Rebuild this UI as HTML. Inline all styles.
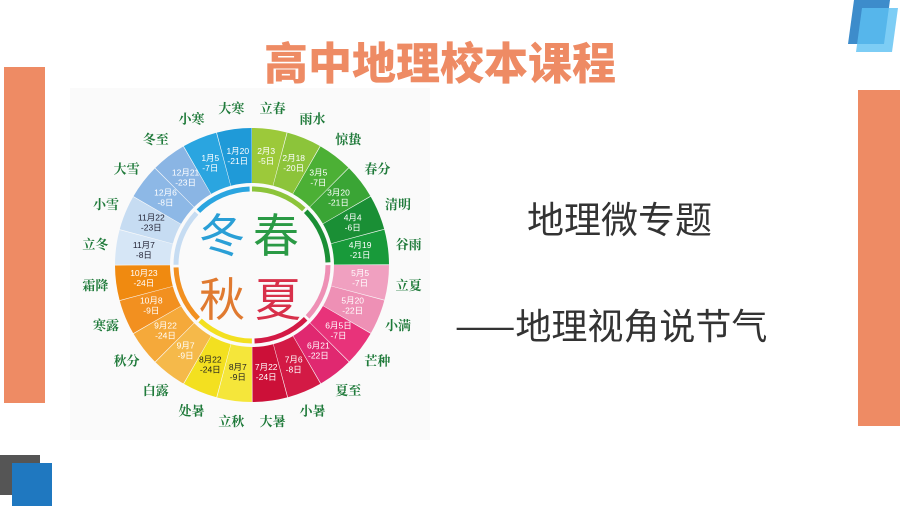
<!DOCTYPE html>
<html><head><meta charset="utf-8"><style>
body{margin:0;width:900px;height:506px;background:#fff;position:relative;overflow:hidden;font-family:"Liberation Sans","Noto Sans CJK SC",sans-serif}
.a{position:absolute}
</style></head><body>
<div class="a" style="left:4px;top:67px;width:41px;height:336px;background:#ee8b64"></div>
<div class="a" style="left:858px;top:90px;width:42px;height:336px;background:#ee8b64"></div>
<div class="a" style="left:0;top:455px;width:40px;height:40px;background:#555"></div>
<div class="a" style="left:12px;top:463px;width:40px;height:43px;background:#1f78c0"></div>
<svg class="a" style="left:840px;top:0" width="60" height="60"><polygon points="14,0 50,0 44,44 8,44" fill="#3d8ccb"/><polygon points="22,8 58,8 52,52 16,52" fill="#5cc0f2" opacity=".8"/></svg>
<div class="a" style="left:0;width:880px;top:36px;line-height:48px;text-align:center;font-size:44px;font-weight:900;color:#ee8b64;font-family:'Noto Sans CJK SC',sans-serif">高中地理校本课程</div>
<div class="a" style="left:70px;top:88px;width:360px;height:352px;background:#fafafa"></div>
<svg class="a" style="left:0;top:0" width="900" height="506">
<g transform="rotate(-90 252 265)" fill="none" stroke-width="55">
<circle cx="252" cy="265" r="109.5" stroke="#9cc93a" stroke-dasharray="28.1 659.9" stroke-dashoffset="0"/>
<circle cx="252" cy="265" r="109.5" stroke="#8cc43a" stroke-dasharray="28.1 659.9" stroke-dashoffset="-28.67"/>
<circle cx="252" cy="265" r="109.5" stroke="#4cb035" stroke-dasharray="28.1 659.9" stroke-dashoffset="-57.33"/>
<circle cx="252" cy="265" r="109.5" stroke="#3aa535" stroke-dasharray="28.1 659.9" stroke-dashoffset="-86"/>
<circle cx="252" cy="265" r="109.5" stroke="#1a8f35" stroke-dasharray="28.1 659.9" stroke-dashoffset="-114.67"/>
<circle cx="252" cy="265" r="109.5" stroke="#189a3a" stroke-dasharray="28.1 659.9" stroke-dashoffset="-143.33"/>
<circle cx="252" cy="265" r="109.5" stroke="#f0a0c0" stroke-dasharray="28.1 659.9" stroke-dashoffset="-172"/>
<circle cx="252" cy="265" r="109.5" stroke="#ee90b5" stroke-dasharray="28.1 659.9" stroke-dashoffset="-200.67"/>
<circle cx="252" cy="265" r="109.5" stroke="#e8337a" stroke-dasharray="28.1 659.9" stroke-dashoffset="-229.33"/>
<circle cx="252" cy="265" r="109.5" stroke="#e02870" stroke-dasharray="28.1 659.9" stroke-dashoffset="-258"/>
<circle cx="252" cy="265" r="109.5" stroke="#d31a45" stroke-dasharray="28.1 659.9" stroke-dashoffset="-286.67"/>
<circle cx="252" cy="265" r="109.5" stroke="#cc1038" stroke-dasharray="28.1 659.9" stroke-dashoffset="-315.33"/>
<circle cx="252" cy="265" r="109.5" stroke="#f5e63a" stroke-dasharray="28.1 659.9" stroke-dashoffset="-344"/>
<circle cx="252" cy="265" r="109.5" stroke="#f3e020" stroke-dasharray="28.1 659.9" stroke-dashoffset="-372.67"/>
<circle cx="252" cy="265" r="109.5" stroke="#f5b94a" stroke-dasharray="28.1 659.9" stroke-dashoffset="-401.33"/>
<circle cx="252" cy="265" r="109.5" stroke="#f5a93a" stroke-dasharray="28.1 659.9" stroke-dashoffset="-430"/>
<circle cx="252" cy="265" r="109.5" stroke="#f29020" stroke-dasharray="28.1 659.9" stroke-dashoffset="-458.67"/>
<circle cx="252" cy="265" r="109.5" stroke="#f08a10" stroke-dasharray="28.1 659.9" stroke-dashoffset="-487.33"/>
<circle cx="252" cy="265" r="109.5" stroke="#d6e6f6" stroke-dasharray="28.1 659.9" stroke-dashoffset="-516"/>
<circle cx="252" cy="265" r="109.5" stroke="#c6dcf2" stroke-dasharray="28.1 659.9" stroke-dashoffset="-544.67"/>
<circle cx="252" cy="265" r="109.5" stroke="#8db8e6" stroke-dasharray="28.1 659.9" stroke-dashoffset="-573.33"/>
<circle cx="252" cy="265" r="109.5" stroke="#8ab5e4" stroke-dasharray="28.1 659.9" stroke-dashoffset="-602"/>
<circle cx="252" cy="265" r="109.5" stroke="#2aa5e0" stroke-dasharray="28.1 659.9" stroke-dashoffset="-630.67"/>
<circle cx="252" cy="265" r="109.5" stroke="#1f9ad8" stroke-dasharray="28.1 659.9" stroke-dashoffset="-659.33"/>
<g stroke-width="5">
<circle cx="252" cy="265" r="76" stroke="#8cc43a" stroke-dasharray="57 420.5" stroke-dashoffset="0"/>
<circle cx="252" cy="265" r="76" stroke="#1a8f35" stroke-dasharray="57 420.5" stroke-dashoffset="-59.7"/>
<circle cx="252" cy="265" r="76" stroke="#ee90b5" stroke-dasharray="57 420.5" stroke-dashoffset="-119.4"/>
<circle cx="252" cy="265" r="76" stroke="#d31a45" stroke-dasharray="57 420.5" stroke-dashoffset="-179.1"/>
<circle cx="252" cy="265" r="76" stroke="#f3e020" stroke-dasharray="57 420.5" stroke-dashoffset="-238.8"/>
<circle cx="252" cy="265" r="76" stroke="#f29020" stroke-dasharray="57 420.5" stroke-dashoffset="-298.5"/>
<circle cx="252" cy="265" r="76" stroke="#c6dcf2" stroke-dasharray="57 420.5" stroke-dashoffset="-358.2"/>
<circle cx="252" cy="265" r="76" stroke="#2aa5e0" stroke-dasharray="57 420.5" stroke-dashoffset="-417.9"/>
</g></g>
<g font-family="Liberation Serif,Noto Serif CJK SC,serif" font-size="13" font-weight="bold" fill="#1f7a3a" text-anchor="middle" dominant-baseline="central">
<text x="272.6" y="108.4">立春</text><text x="312.5" y="119">雨水</text><text x="348.2" y="139.6">惊蛰</text><text x="377.4" y="168.8">春分</text><text x="398" y="204.5">清明</text><text x="408.6" y="244.4">谷雨</text><text x="408.6" y="285.6">立夏</text><text x="398" y="325.5">小满</text><text x="377.4" y="361.2">芒种</text><text x="348.2" y="390.4">夏至</text><text x="312.5" y="411">小暑</text><text x="272.6" y="421.6">大暑</text><text x="231.4" y="421.6">立秋</text><text x="191.5" y="411">处暑</text><text x="155.8" y="390.4">白露</text><text x="126.6" y="361.2">秋分</text><text x="106" y="325.5">寒露</text><text x="95.4" y="285.6">霜降</text><text x="95.4" y="244.4">立冬</text><text x="106" y="204.5">小雪</text><text x="126.6" y="168.8">大雪</text><text x="155.8" y="139.6">冬至</text><text x="191.5" y="119">小寒</text><text x="231.4" y="108.4">大寒</text>
</g>
<g font-size="8.5" fill="#fff" text-anchor="middle">
<text x="266.2" y="154">2月3<tspan x="266.2" dy="10">-5日</tspan></text>
<text x="293.7" y="161">2月18<tspan x="293.7" dy="10">-20日</tspan></text>
<text x="318.4" y="175.5">3月5<tspan x="318.4" dy="10">-7日</tspan></text>
<text x="338.5" y="195.6">3月20<tspan x="338.5" dy="10">-21日</tspan></text>
<text x="352.7" y="220.3">4月4<tspan x="352.7" dy="10">-6日</tspan></text>
<text x="360.1" y="247.8">4月19<tspan x="360.1" dy="10">-21日</tspan></text>
<text x="360.1" y="276.2">5月5<tspan x="360.1" dy="10">-7日</tspan></text>
<text x="352.7" y="303.7">5月20<tspan x="352.7" dy="10">-22日</tspan></text>
<text x="338.5" y="328.4">6月5日<tspan x="338.5" dy="10">-7日</tspan></text>
<text x="318.4" y="348.5">6月21<tspan x="318.4" dy="10">-22日</tspan></text>
<text x="293.7" y="362.7">7月6<tspan x="293.7" dy="10">-8日</tspan></text>
<text x="266.2" y="370.1">7月22<tspan x="266.2" dy="10">-24日</tspan></text>
<text x="237.8" y="370.1" fill="#222">8月7<tspan x="237.8" dy="10">-9日</tspan></text>
<text x="210.3" y="362.7" fill="#222">8月22<tspan x="210.3" dy="10">-24日</tspan></text>
<text x="185.6" y="348.5">9月7<tspan x="185.6" dy="10">-9日</tspan></text>
<text x="165.5" y="328.4">9月22<tspan x="165.5" dy="10">-24日</tspan></text>
<text x="151.3" y="303.7">10月8<tspan x="151.3" dy="10">-9日</tspan></text>
<text x="143.9" y="276.2">10月23<tspan x="143.9" dy="10">-24日</tspan></text>
<text x="143.9" y="247.8" fill="#223">11月7<tspan x="143.9" dy="10">-8日</tspan></text>
<text x="151.3" y="220.3" fill="#223">11月22<tspan x="151.3" dy="10">-23日</tspan></text>
<text x="165.5" y="195.6">12月6<tspan x="165.5" dy="10">-8日</tspan></text>
<text x="185.6" y="175.5">12月21<tspan x="185.6" dy="10">-23日</tspan></text>
<text x="210.3" y="161">1月5<tspan x="210.3" dy="10">-7日</tspan></text>
<text x="237.8" y="154">1月20<tspan x="237.8" dy="10">-21日</tspan></text>
</g>
<g font-size="46" text-anchor="middle" dominant-baseline="central" font-family="Noto Sans CJK SC,sans-serif">
<text x="222" y="233" fill="#2a9fd6">冬</text><text x="276" y="233" fill="#2a9a45">春</text>
<text x="222" y="297" fill="#e07a30">秋</text><text x="278" y="297" fill="#d8304a">夏</text>
</g>
</svg>
<div class="a" style="left:527px;top:199px;line-height:36px;font-size:37px;color:#333;font-family:'Noto Sans CJK SC',sans-serif;white-space:nowrap">地理微专题</div>
<div class="a" style="left:455px;top:306px;line-height:36px;font-size:36px;color:#333;font-family:'Noto Sans CJK SC',sans-serif;white-space:nowrap">——地理视角说节气</div>
</body></html>
